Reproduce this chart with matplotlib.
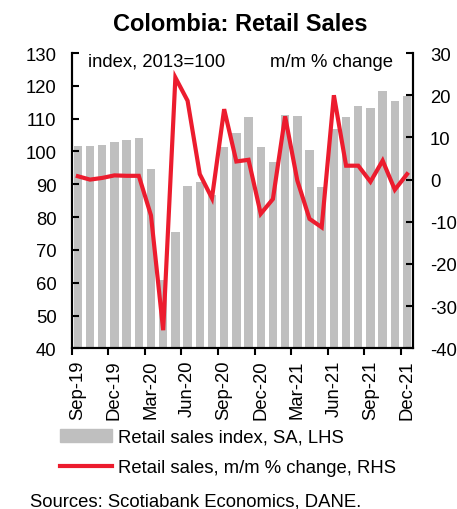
import numpy as np
import matplotlib
matplotlib.use("Agg")
import matplotlib.pyplot as plt
from matplotlib.patches import Patch
from matplotlib.lines import Line2D

plt.rcParams['font.family'] = ['Liberation Sans', 'DejaVu Sans']
plt.rcParams['axes.unicode_minus'] = False

months = ["Sep-19", "Oct-19", "Nov-19", "Dec-19", "Jan-20", "Feb-20",
          "Mar-20", "Apr-20", "May-20", "Jun-20", "Jul-20", "Aug-20",
          "Sep-20", "Oct-20", "Nov-20", "Dec-20", "Jan-21", "Feb-21",
          "Mar-21", "Apr-21", "May-21", "Jun-21", "Jul-21", "Aug-21",
          "Sep-21", "Oct-21", "Nov-21", "Dec-21"]

# retail sales index, SA (LHS)
sales_index = [101.8, 101.6, 101.9, 102.8, 103.4, 104.0,
               94.6, 60.8, 75.5, 89.5, 90.7, 86.7,
               101.3, 105.5, 110.4, 101.4, 96.7, 111.1,
               110.8, 100.5, 89.2, 107.0, 110.4, 113.9,
               113.3, 118.4, 115.5, 116.8]

# m/m % change (RHS)
mm_change = [0.8, 0.0, 0.4, 1.0, 0.9, 0.9,
             -8.5, -35.7, 24.2, 18.7, 1.3, -4.4,
             16.7, 4.3, 4.7, -8.1, -4.6, 15.0,
             -0.2, -9.3, -11.3, 20.0, 3.3, 3.3,
             -0.5, 4.5, -2.4, 1.3]

bar_color = "#BFBFBF"
line_color = "#EC1C2E"
fs = 13.3

fig = plt.figure(figsize=(4.57, 5.10), dpi=100)
ax = fig.add_axes([0.157, 0.315, 0.747, 0.579])
ax2 = ax.twinx()

x = np.arange(len(months))
ax.bar(x, sales_index, width=0.69, color=bar_color, zorder=1)
ax2.plot(x, mm_change, color=line_color, lw=3, solid_joinstyle='miter',
         zorder=3)

ax.set_xlim(-0.5, len(months) - 0.5)
ax.set_ylim(40, 130)
ax.set_yticks(np.arange(40, 131, 10))
ax2.set_ylim(-40, 30)
ax2.set_yticks(np.arange(-40, 31, 10))

# category ticks between bars, labels every quarter at bar centres
ax.set_xticks(x[::3] - 0.5)
ax.set_xticklabels([])
ax.set_xticks(x[::3], minor=True)
ax.set_xticklabels(months[::3], minor=True, rotation=90, fontsize=fs)
ax.tick_params(axis='x', which='major', direction='out', length=5, width=1.5)
ax.tick_params(axis='x', which='minor', length=0, pad=8)

ax.tick_params(axis='y', direction='in', length=5, width=1.5, labelsize=fs,
               pad=11)
ax2.tick_params(axis='y', direction='in', length=5, width=1.5, labelsize=fs,
                pad=12)

for a in (ax, ax2):
    a.spines['top'].set_visible(False)
    for s in ('left', 'right', 'bottom'):
        a.spines[s].set_linewidth(1.5)
ax2.set_zorder(ax.get_zorder() + 1)
ax2.patch.set_visible(False)

ax.text(0.048, 0.972, "index, 2013=100", transform=ax.transAxes,
        fontsize=fs, ha='left', va='center')
ax.text(0.94, 0.972, "m/m % change", transform=ax.transAxes,
        fontsize=fs, ha='right', va='center')

fig.text(0.525, 0.951, "Colombia: Retail Sales", fontsize=17,
         fontweight='bold', ha='center', va='center')

handles = [Patch(color=bar_color), Line2D([], [], color=line_color, lw=3)]
fig.legend(handles, ["Retail sales index, SA, LHS",
                     "Retail sales, m/m % change, RHS"],
           loc='upper left', bbox_to_anchor=(0.131, 0.157),
           frameon=False, fontsize=fs, handlelength=2.8, handletextpad=0.32,
           labelspacing=0.71, borderaxespad=0, borderpad=0)

fig.text(0.066, 0.0157, "Sources: Scotiabank Economics, DANE.", fontsize=fs,
         ha='left', va='center')

fig.savefig("out.png", dpi=100)
